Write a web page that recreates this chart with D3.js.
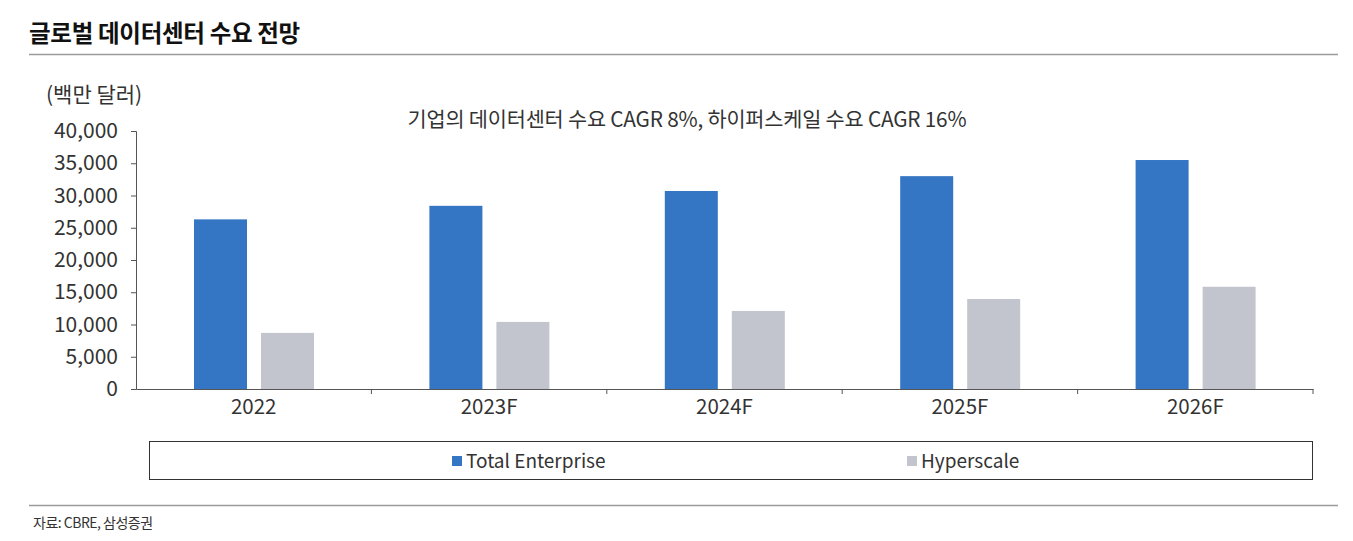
<!DOCTYPE html>
<html>
<head>
<meta charset="utf-8">
<script src="https://cdn.jsdelivr.net/npm/d3@7"></script>
<style>
  body { margin: 0; background: #fff; }
  text { font-family: "Noto Sans CJK KR", "Noto Sans", sans-serif; fill: #333; }
</style>
</head>
<body>
<div id="chart"></div>
<script>
// chart data
var categories = ['2022', '2023F', '2024F', '2025F', '2026F'];
var enterprise = [26300, 28400, 30700, 33000, 35500];
var hyperscale = [8700, 10400, 12100, 13950, 15850];
var yTicks = [0, 5000, 10000, 15000, 20000, 25000, 30000, 35000, 40000];
var seriesNames = ['Total Enterprise', 'Hyperscale'];

var colors = ['#3476c3', '#c3c5ce'];

var width = 1353,
    height = 541,
    plotLeft = 136,
    plotRight = 1313,
    plotTop = 131,
    plotBottom = 389;

var svg = d3.select('#chart').append('svg')
    .attr('width', width)
    .attr('height', height);

// title and rules
svg.append('text')
    .attr('x', 29).attr('y', 42)
    .style('font-size', '23.5px').style('font-weight', 'bold').style('fill', '#111')
    .style('letter-spacing', '-0.3px')
    .text('글로벌 데이터센터 수요 전망');
svg.append('line')
    .attr('x1', 29).attr('x2', 1338).attr('y1', 54.5).attr('y2', 54.5)
    .attr('stroke', '#9a9a9a').attr('stroke-width', 1.5);
svg.append('line')
    .attr('x1', 29).attr('x2', 1338).attr('y1', 505.5).attr('y2', 505.5)
    .attr('stroke', '#9a9a9a').attr('stroke-width', 1.5);
svg.append('text')
    .attr('x', 33).attr('y', 528)
    .style('font-size', '14px').style('letter-spacing', '-0.5px')
    .text('자료: CBRE, 삼성증권');

svg.append('text')
    .attr('x', 46).attr('y', 102)
    .style('font-size', '21px')
    .text('(백만 달러)');
svg.append('text')
    .attr('x', 687).attr('y', 127)
    .attr('text-anchor', 'middle')
    .style('font-size', '20.8px').style('letter-spacing', '-0.2px')
    .text('기업의 데이터센터 수요 CAGR 8%, 하이퍼스케일 수요 CAGR 16%');

// scales
var x = d3.scaleBand().domain(categories).range([plotLeft, plotRight]);
var y = d3.scaleLinear().domain([0, 40000]).range([plotBottom, plotTop]);

var x1 = d3.scaleBand().domain(seriesNames).range([58, 58 + 120]).paddingInner(0.209);

// y axis
var yAxis = svg.append('g')
    .attr('transform', 'translate(' + plotLeft + ',0)')
    .call(d3.axisLeft(y).tickValues(yTicks).tickSize(5).tickPadding(13)
        .tickFormat(d3.format(',')));
yAxis.selectAll('text').style('font-size', '21px').style('fill', '#333');
yAxis.selectAll('line, path').attr('stroke', '#555');

// x axis
var xAxis = svg.append('g')
    .attr('transform', 'translate(0,' + plotBottom + ')')
    .call(d3.axisBottom(x).tickSize(0).tickPadding(10));
xAxis.selectAll('text').style('font-size', '20.5px').style('fill', '#333');
xAxis.select('path').attr('stroke', '#555');
xAxis.selectAll('.sep')
    .data(categories.slice(1).concat(['end']))
    .enter().append('line')
    .attr('class', 'sep')
    .attr('x1', function(d, i) { return plotLeft + x.step() * (i + 1); })
    .attr('x2', function(d, i) { return plotLeft + x.step() * (i + 1); })
    .attr('y1', 0).attr('y2', 5)
    .attr('stroke', '#555');

// bars
var rows = categories.map(function(c, i) {
    return { cat: c, vals: [enterprise[i], hyperscale[i]] };
});

var grp = svg.selectAll('g.cat')
    .data(rows)
    .enter().append('g')
    .attr('class', 'cat')
    .attr('transform', function(d) { return 'translate(' + x(d.cat) + ',0)'; });

grp.selectAll('rect')
    .data(function(d) { return d.vals; })
    .enter().append('rect')
    .attr('x', function(d, i) { return x1(seriesNames[i]); })
    .attr('width', x1.bandwidth())
    .attr('y', function(d) { return y(d); })
    .attr('height', function(d) { return plotBottom - y(d); })
    .style('fill', function(d, i) { return colors[i]; });

// legend
svg.append('rect')
    .attr('x', 149.5).attr('y', 441.5).attr('width', 1163).attr('height', 38)
    .attr('fill', 'none').attr('stroke', '#333').attr('stroke-width', 1);

var legendX = [452, 907];
var lg = svg.selectAll('g.legend')
    .data(seriesNames)
    .enter().append('g')
    .attr('class', 'legend')
    .attr('transform', function(d, i) { return 'translate(' + legendX[i] + ',461)'; });
lg.append('rect')
    .attr('x', 0).attr('y', -5).attr('width', 10).attr('height', 10)
    .style('fill', function(d, i) { return colors[i]; });
lg.append('text')
    .attr('x', 14).attr('y', 7)
    .style('font-size', '19px')
    .text(function(d) { return d; });
</script>
</body>
</html>
